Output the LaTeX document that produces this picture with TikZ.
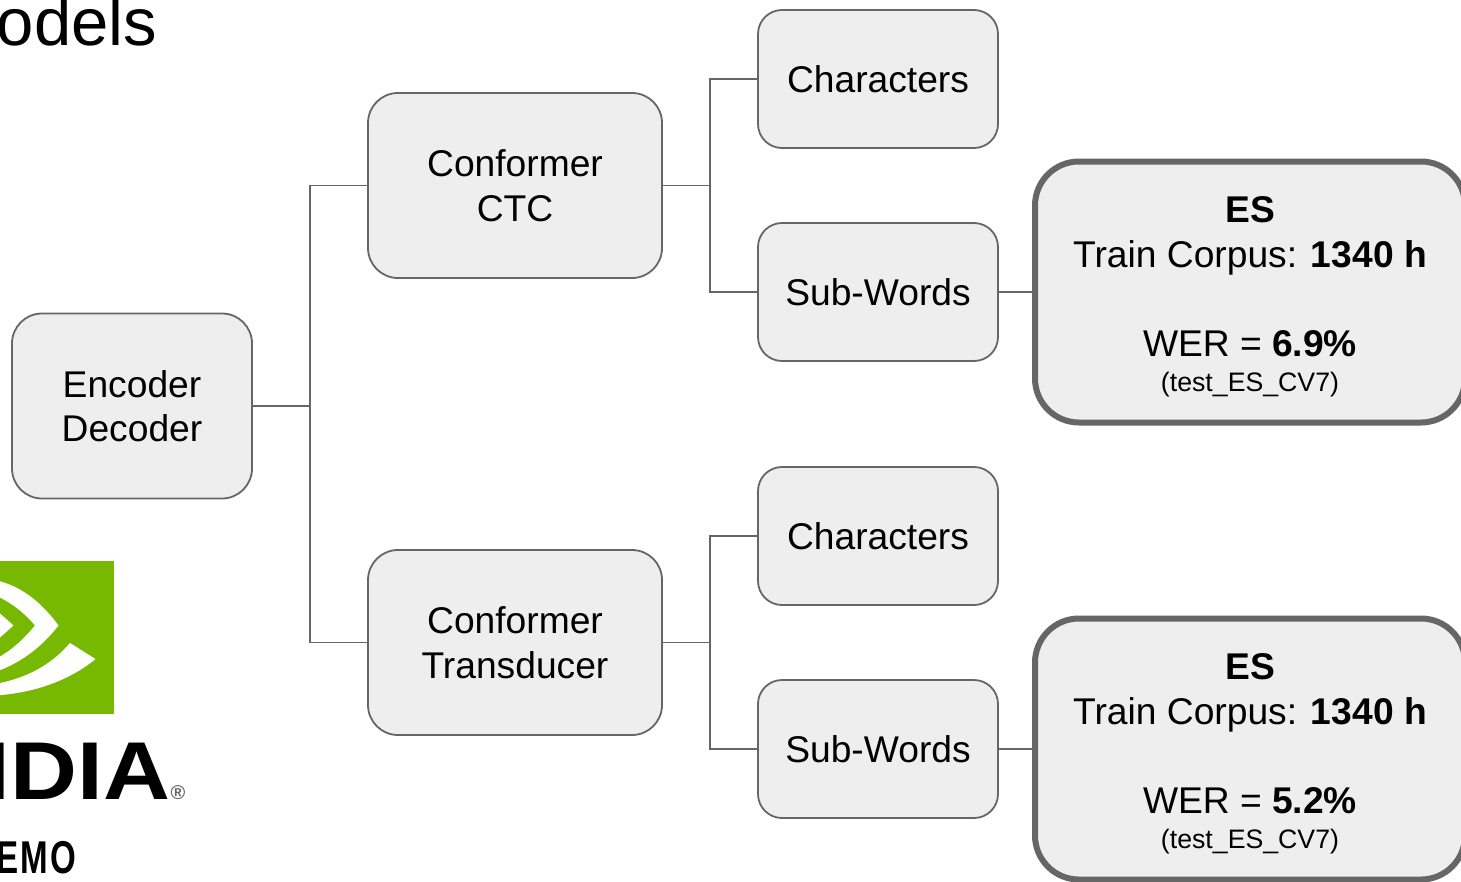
\documentclass[tikz,border=0pt]{standalone}
\usepackage{fontspec}
\setmainfont{Liberation Sans}
\newfontfamily\demofont[LetterSpace=7]{Liberation Sans}
\usepackage{tikz}
\definecolor{boxfill}{HTML}{EEEEEE}
\definecolor{boxline}{HTML}{666666}
\definecolor{logogreen}{HTML}{76B900}
\tikzset{x=1pt,y=-1pt}
\tikzset{
  smallbox/.style={draw=boxline,fill=boxfill,line width=1.8pt,rounded corners=24pt,inner sep=0pt,outer sep=0pt,
    minimum width=240pt,minimum height=138pt,align=center,font=\fontsize{37.2}{44.5}\selectfont},
  bigbox/.style={smallbox,minimum width=294pt,minimum height=185pt,rounded corners=30pt},
  resultbox/.style={smallbox,line width=6pt,minimum width=430pt,minimum height=261pt,rounded corners=44pt},
  link/.style={draw=boxline,line width=1.8pt},
  logotext/.style={inner sep=0pt,outer sep=0pt,text=black}
}
\begin{document}
\begin{tikzpicture}
    \useasboundingbox (0,0) rectangle (1461,881);
    \node[logotext,anchor=base east,font=\fontsize{67}{67}\selectfont] (title) at (157,45) {odels};
    \begin{scope}
        \clip (0,0) rectangle (1461,881);
        \fill[logogreen] (-5,561) rectangle (113.5,714);
        \fill[white] (-5,580) .. controls (22,586) and (42,603) .. (58.5,625.5)
            .. controls (44,644) and (24,662) .. (-5,672) -- (-5,659)
            .. controls (10,652) and (24,639) .. (35,625.5)
            .. controls (24,612) and (10,602) .. (-5,595) -- cycle;
        \fill[white] (-5,609) -- (13.5,625.5) -- (-5,642) -- cycle;
        \fill[white] (70,643) -- (95.5,659) .. controls (70,680) and (35,693) .. (-5,695.5)
            -- (-5,684) .. controls (28,678) and (52,664) .. cycle;
    \end{scope}
    \node[logotext,anchor=base east,xscale=1.13,transform shape,font=\fontsize{82}{82}\selectfont\bfseries] (brand) at (170,799.5) {IDIA};
    \node[logotext,anchor=center,text=black!60,font=\fontsize{20}{20}\selectfont\bfseries] (mark) at (178,793) {®};
    \node[logotext,anchor=base east,xscale=0.72,transform shape,font=\fontsize{46}{46}\demofont\bfseries] (demo) at (76.5,873) {EMO};

    \node[bigbox,minimum width=240pt] (enc) at (132,406) {Encoder\\Decoder};
    \foreach \b/\dy/\kind/\wer in {a/0/CTC/6.9,b/457/Transducer/5.2} {
      \node[bigbox] (conf\b) at (515,{185.5+\dy}) {Conformer\\\kind};
      \node[smallbox] (char\b) at (878,{79+\dy}) {Characters};
      \node[smallbox] (sub\b) at (878,{292+\dy}) {Sub-Words};
      \node[resultbox] (res\b) at (1250,{292+\dy}) {\rule{0pt}{36pt}\textbf{ES}\\Train Corpus: \textbf{1340 h}\\[44.5pt]WER = \textbf{\wer\%}\\[-9pt]{\fontsize{26.7}{32}\selectfont (test\_ES\_CV7)}};
      \draw[link] (enc.east) -- ++(58,0) |- (conf\b.west);
      \draw[link] (conf\b.east) -- ++(48,0) |- (char\b.west);
      \draw[link] (conf\b.east) -- ++(48,0) |- (sub\b.west);
      \draw[link] (sub\b.east) -- (res\b.west);
    }
\end{tikzpicture}
\end{document}
